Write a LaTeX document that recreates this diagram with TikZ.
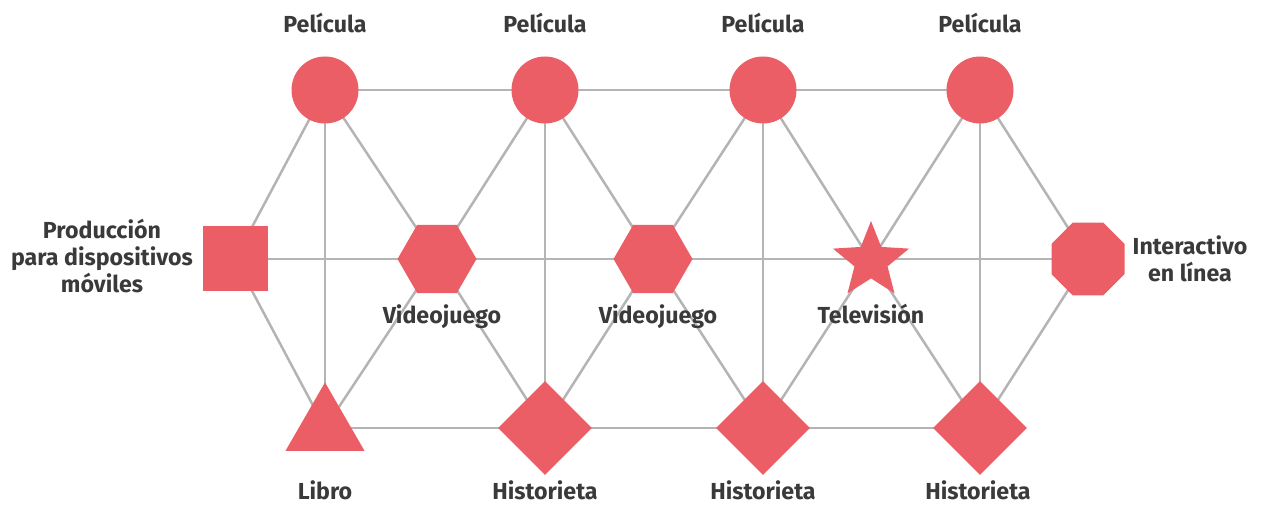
\documentclass[tikz,border=0pt]{standalone}
\usepackage{fontspec}
\setmainfont{Fira Sans}
\usetikzlibrary{shapes.geometric,backgrounds}
\definecolor{shapered}{HTML}{EC5E66}
\definecolor{edgegray}{HTML}{B4B4B4}
\definecolor{txtgray}{HTML}{3A3A3A}
\tikzset{
  shp/.style={fill=shapered,draw=none,inner sep=0pt},
  pelicula/.style={shp,circle,minimum size=33.5pt},
  movil/.style={shp,rectangle,minimum size=32.5pt},
  juego/.style={shp,regular polygon,regular polygon sides=6,minimum size=39.5pt},
  tele/.style={shp,star,star points=5,star point ratio=2.3,minimum size=40pt},
  online/.style={shp,regular polygon,regular polygon sides=8,minimum size=39.5pt},
  libro/.style={shp,regular polygon,regular polygon sides=3,minimum size=45.6pt},
  comic/.style={shp,diamond,minimum size=47pt},
  lbl/.style={text=txtgray,font=\fontsize{11.6}{13.5}\selectfont\bfseries,align=center,inner sep=0pt},
  edge/.style={draw=edgegray,line width=1.25pt}
}
\begin{document}
\begin{tikzpicture}[x=0.5pt,y=-0.5pt]
	\useasboundingbox (0,0) rectangle (1264,506);
	\def\ytop{90} \def\ymid{259} \def\ybot{428}
	% shapes
	\node[pelicula] (p1) at (325,\ytop) {};
	\node[pelicula] (p2) at (545,\ytop) {};
	\node[pelicula] (p3) at (763,\ytop) {};
	\node[pelicula] (p4) at (980,\ytop) {};
	\node[movil] (m) at (235,\ymid) {};
	\node[juego] (v1) at (437,\ymid) {};
	\node[juego] (v2) at (653,\ymid) {};
	\node[tele] (t) at (871,261) {};
	\node[online] (i) at (1088,\ymid) {};
	\node[libro] (l) at (325,\ybot) {};
	\node[comic] (h1) at (545,\ybot) {};
	\node[comic] (h2) at (763,\ybot) {};
	\node[comic] (h3) at (980,\ybot) {};
	% connectors behind the shapes
	\begin{pgfonlayer}{background}
	\draw[edge] (p1.center)--(p2.center)--(p3.center)--(p4.center);
	\draw[edge] (m.center)--(v1.center)--(v2.center)--(i.center);
	\draw[edge] (l.center)--(h1.center)--(h2.center)--(h3.center);
	\foreach \a/\b in {p1/l,p2/h1,p3/h2,p4/h3,
		m/p1,m/l,v1/p1,v1/l,v1/p2,v1/h1,v2/p2,v2/h1,v2/p3,v2/h2,
		t/p3,t/h2,t/p4,t/h3,i/p4,i/h3}
		\draw[edge] (\a.center)--(\b.center);
	\end{pgfonlayer}
	% labels
	\foreach \n/\x in {1/325,2/545,3/763,4/980}
		\node[lbl,anchor=base] (lp\n) at (\x,33) {Película};
	\node[lbl] (lm) at (102,256) {Producción\\para dispositivos\\móviles};
	\node[lbl,anchor=base] (lv1) at (442,324) {Videojuego};
	\node[lbl,anchor=base] (lv2) at (658,324) {Videojuego};
	\node[lbl,anchor=base] (lt) at (871,324) {Televisión};
	\node[lbl] (li) at (1190,259) {Interactivo\\en línea};
	\node[lbl,anchor=base] (ll) at (325,500) {Libro};
	\node[lbl,anchor=base] (lh1) at (545,500) {Historieta};
	\node[lbl,anchor=base] (lh2) at (763,500) {Historieta};
	\node[lbl,anchor=base] (lh3) at (978,500) {Historieta};
\end{tikzpicture}
\end{document}
